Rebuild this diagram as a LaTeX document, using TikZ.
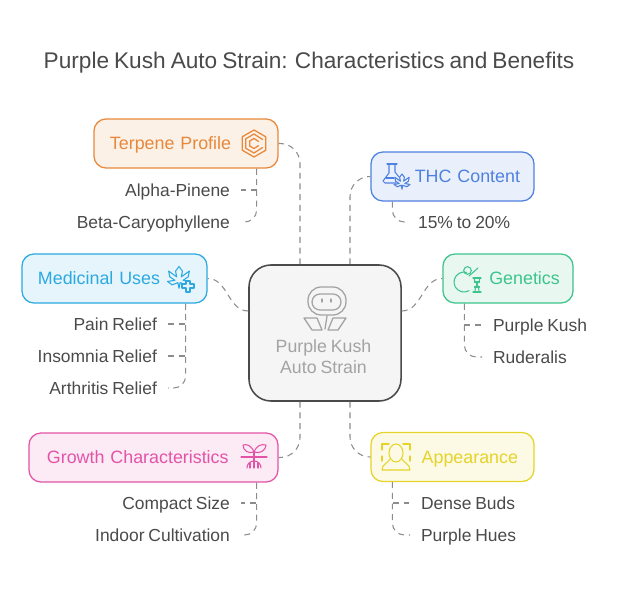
\documentclass[tikz,border=0pt]{standalone}
\usepackage{fontspec}
\setmainfont[WordSpace=0.8]{Liberation Sans}
\definecolor{terpenecol}{HTML}{E8883A}
\definecolor{thccol}{HTML}{4F81E0}
\definecolor{geneticscol}{HTML}{3CC48C}
\definecolor{medicinalcol}{HTML}{2BA9E0}
\definecolor{growthcol}{HTML}{E354A8}
\definecolor{appearancecol}{HTML}{E6D32A}
\definecolor{leaftext}{HTML}{4A4A4A}
\definecolor{linkcol}{HTML}{8C8C8C}
\definecolor{corecol}{HTML}{A3A3A3}
\tikzset{
  topic/.style={rectangle, rounded corners=0.3cm, draw=#1, fill=#1!12, text=#1, line width=0.9pt,
    minimum height=1.225cm, inner xsep=0.4cm, inner ysep=0pt, text height=10.2pt, text depth=1.4pt, font=\fontsize{12.7}{14}\selectfont},
  item/.style={text=leaftext, inner xsep=0.27cm, inner ysep=0pt, text height=10.2pt, text depth=1.4pt, font=\fontsize{12.4}{14}\selectfont},
  link/.style={draw=linkcol, line width=0.75pt, dash pattern=on 4.2pt off 3.4pt, rounded corners=0.5cm},
  lastlink/.style={link, rounded corners=0.3cm},
  midlink/.style={link, rounded corners=0pt},
  glyph/.style={draw=#1, line width=0.75pt, line join=round, line cap=round, fill=none},
  leafmark/.pic={
    \path[pic actions] (0,-10) -- (3,-6) -- (2,-1) -- (9,-6) -- (8,-1) -- (3.5,2) -- (10,3) -- (6,6) -- (1,4) -- (0,9)
      -- (-1,4) -- (-6,6) -- (-10,3) -- (-3.5,2) -- (-8,-1) -- (-9,-6) -- (-2,-1) -- (-3,-6) -- cycle;
  }
}
\begin{document}
\begin{tikzpicture}[x=0.025cm,y=-0.025cm]
\useasboundingbox (0,0) rectangle (618,591);

\node [text=leaftext, font=\fontsize{16.1}{20}\selectfont] (title) at (309,62.5) {Purple Kush Auto Strain: Characteristics and Benefits};

\node [rectangle, rounded corners=0.55cm, draw=leaftext, fill=black!4, line width=1.1pt, minimum width=3.8cm, minimum height=3.4cm] (core) at (325,333) {};
\node [text=corecol, align=center, font=\fontsize{12.6}{15}\selectfont] (coretext) at (323.5,357) {Purple Kush\\Auto Strain};

\node [topic=terpenecol, minimum width=4.6cm, text width=3.8cm, align=left] (terpene) at (186,143.5) {Terpene Profile};
\node [topic=thccol, minimum width=4.075cm, inner xsep=0.35cm, text width=3.375cm, align=right] (thc) at (452.5,176.5) {THC Content};
\node [topic=geneticscol, minimum width=3.25cm, inner xsep=0.33cm, text width=2.59cm, align=right] (genetics) at (508,278.5) {Genetics};
\node [topic=medicinalcol, minimum width=4.625cm, text width=3.825cm, align=left] (medicinal) at (114.5,278.5) {Medicinal Uses};
\node [topic=growthcol, minimum width=6.225cm, inner xsep=0.45cm, text width=5.325cm, align=left] (growth) at (153.5,457.5) {Growth Characteristics};
\node [topic=appearancecol, minimum width=4.075cm, text width=3.275cm, align=right] (appearance) at (452.5,457) {Appearance};

\node [item, anchor=east] (alpha) at (241,190) {Alpha-Pinene};
\node [item, anchor=east] (beta) at (241,222) {Beta-Caryophyllene};
\node [item, anchor=west] (thcrange) at (407,222) {15\% to 20\%};
\node [item, anchor=west] (kush) at (482,325) {Purple Kush};
\node [item, anchor=west] (ruderalis) at (482,357) {Ruderalis};
\node [item, anchor=east] (pain) at (168,324) {Pain Relief};
\node [item, anchor=east] (insomnia) at (168,356) {Insomnia Relief};
\node [item, anchor=east] (arthritis) at (168,388) {Arthritis Relief};
\node [item, anchor=east] (compact) at (241,503) {Compact Size};
\node [item, anchor=east] (indoor) at (241,535) {Indoor Cultivation};
\node [item, anchor=west] (dense) at (410,503) {Dense Buds};
\node [item, anchor=west] (hues) at (410,535) {Purple Hues};

% core to topics
\draw [link] ([xshift=-0.625cm]core.north) |- (terpene.east);
\draw [link] ([xshift=0.625cm]core.north) |- (thc.west);
\draw [link] ([xshift=-0.625cm]core.south) |- (growth.east);
\draw [link] ([xshift=0.625cm]core.south) |- (appearance.west);
\draw [midlink] ([yshift=0.55cm]core.west) to [out=180, in=0] (medicinal.east);
\draw [midlink] ([yshift=0.55cm]core.east) to [out=0, in=180] (genetics.west);

% topics to items
\draw [lastlink] ([xshift=-0.55cm]terpene.south east) |- (beta.east);
\draw [midlink] ([xshift=-0.55cm]terpene.south east) |- (alpha.east);
\draw [lastlink] ([xshift=0.55cm]thc.south west) |- (thcrange.west);
\draw [lastlink] ([xshift=0.55cm]genetics.south west) |- (ruderalis.west);
\draw [midlink] ([xshift=0.55cm]genetics.south west) |- (kush.west);
\draw [lastlink] ([xshift=-0.55cm]medicinal.south east) |- (arthritis.east);
\draw [midlink] ([xshift=-0.55cm]medicinal.south east) |- (insomnia.east);
\draw [midlink] ([xshift=-0.55cm]medicinal.south east) |- (pain.east);
\draw [lastlink] ([xshift=-0.55cm]growth.south east) |- (indoor.east);
\draw [midlink] ([xshift=-0.55cm]growth.south east) |- (compact.east);
\draw [lastlink] ([xshift=0.55cm]appearance.south west) |- (hues.west);
\draw [midlink] ([xshift=0.55cm]appearance.south west) |- (dense.west);

% core flower
\begin{scope}[glyph=corecol, line width=0.9pt]
\draw [rounded corners=0.33cm] (308,287) rectangle (346,315);
\draw [rounded corners=0.2cm] (312,294) rectangle (341,310);
\draw (322,299) -- (322,302);
\draw (331,299) -- (331,302);
\draw (327,316) -- (325,329);
\draw (304,318) -- (317,318) -- (322,330) -- (312,330) -- cycle;
\draw (333,318) -- (346,318) -- (338,330) -- (328,330) -- cycle;
\end{scope}

% terpene hexagon
\begin{scope}[glyph=terpenecol, shift={(254,143.5)}, line width=0.9pt]
\draw (90:13.5) -- (30:13.5) -- (-30:13.5) -- (-90:13.5) -- (-150:13.5) -- (150:13.5) -- cycle;
\draw (-25:9.5) -- (-90:9.5) -- (-150:9.5) -- (150:9.5) -- (90:9.5) -- (25:9.5);
\draw (-25:5) -- (-90:5) -- (-150:5) -- (150:5) -- (90:5) -- (25:5);
\end{scope}

% thc flask
\begin{scope}[glyph=thccol]
\draw (387,164) -- (397,164);
\draw (389,164) -- (389,173) -- (383,181) -- (385,183) -- (396,183);
\draw (395,164) -- (395,172) -- (399,177);
\draw (386,178) -- (394,178);
\pic [glyph=thccol, scale=0.8] at (402,182) {leafmark};
\end{scope}

% genetics apple and strand
\begin{scope}[glyph=geneticscol]
\draw (469,290.7) arc (60:285:10);
\draw (467.5,270.5) circle (3.8);
\draw (469,276) -- (478,268);
\draw (473,278) -- (481,278);
\draw (473,292) -- (481,292);
\draw (474,278) .. controls (474,283) and (479,283) .. (479,292);
\draw (480,278) .. controls (480,283) and (475,283) .. (475,292);
\draw (474.5,282) -- (479.5,282);
\draw (474.5,287) -- (479.5,287);
\end{scope}

% medicinal leaf
\begin{scope}[glyph=medicinalcol]
\pic [glyph=medicinalcol, scale=1.15] at (179,278) {leafmark};
\draw [fill=medicinalcol!12] (186,281) -- (190,281) -- (190,284) -- (194,284) -- (194,288) -- (190,288) -- (190,292) -- (186,292) -- (186,288) -- (182,288) -- (182,284) -- (186,284) -- cycle;
\end{scope}

% growth plant
\begin{scope}[glyph=growthcol]
\draw (241,457) -- (267,457);
\draw (254,451) -- (254,468);
\draw (254,452) .. controls (251,445) and (247,444) .. (243,445) .. controls (243,451) and (249,454) .. (254,452);
\draw (254,452) .. controls (257,445) and (261,444) .. (266,445) .. controls (266,451) and (259,454) .. (254,452);
\draw (254,461) .. controls (250,461) and (247,464) .. (247,468);
\draw (254,461) .. controls (258,461) and (261,464) .. (261,468);
\draw (250,463) -- (250,468);
\draw (258,463) -- (258,468);
\end{scope}

% appearance face
\begin{scope}[glyph=appearancecol]
\draw (382,450) -- (382,444) -- (389,444);
\draw (403,444) -- (410,444) -- (410,450);
\draw (382,456) -- (382,461);
\draw (410,456) -- (410,461);
\draw (396,453) ellipse (7 and 9);
\draw (390,459) .. controls (388,463) and (382,464) .. (382,470) -- (410,470) .. controls (410,464) and (404,463) .. (402,459);
\end{scope}
\end{tikzpicture}
\end{document}
